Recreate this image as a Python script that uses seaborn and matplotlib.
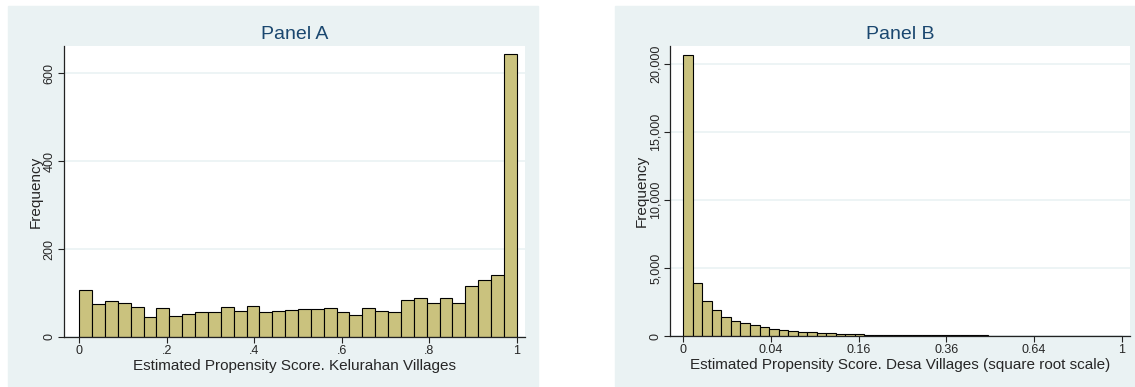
"""
倾向得分分布直方图（Panel A: Kelurahan, Panel B: Desa）
"""

import numpy as np
import pandas as pd
import matplotlib.pyplot as plt
import seaborn as sns
from matplotlib.patches import Rectangle

# ========== 数据（从原图读取的各区间频数） ==========
# Panel A: 34 个等宽区间, 0 ~ 1
kel_counts = [108, 75, 81, 77, 69, 46, 66, 47, 53, 58, 56, 69, 60, 70, 56, 59,
              62, 64, 64, 65, 56, 50, 65, 59, 56, 84, 88, 78, 88, 78, 115, 129,
              140, 643]
kel_ticks = [0, 0.2, 0.4, 0.6, 0.8, 1]
kel_ticklabels = ["0", ".2", ".4", ".6", ".8", "1"]
kel_yticks = [0, 200, 400, 600]

# Panel B: 46 个等宽区间（平方根刻度）, 0 ~ 1
desa_counts = [20700, 3920, 2590, 1880, 1430, 1130, 970, 800, 650, 540, 470,
               380, 330, 270, 220, 195, 170, 145, 120, 110, 100, 90, 85, 80,
               70, 65, 60, 55, 50, 45, 40, 40, 35, 35, 30, 30, 25, 25, 20, 20,
               15, 15, 15, 10, 10, 10]
desa_ticks = [0, 0.04, 0.16, 0.36, 0.64, 1]
desa_yticks = [0, 5000, 10000, 15000, 20000]

# ========== 样式 ==========
BG = "#EAF2F3"
BAR = "#CAC27E"
NAVY = "#1A476F"

sns.set_theme(style="white")
plt.rcParams['font.family'] = ['Liberation Sans', 'DejaVu Sans']

fig = plt.figure(figsize=(11.35, 3.87), dpi=100)
W, H = 1135, 387

# 灰蓝色外框背景（放在最底层）
for x0, x1 in [(8, 538), (615, 1135)]:
    fig.patches.append(Rectangle((x0 / W, 1 - 386 / H), (x1 - x0) / W, 380 / H,
                                 transform=fig.transFigure, color=BG,
                                 zorder=-10))

ax_a = fig.add_axes([64 / W, 50 / H, 461 / W, 291 / H])
ax_b = fig.add_axes([670 / W, 51 / H, 460 / W, 290 / H])


def style_axis(ax, title, xlabel):
    ax.set_facecolor("white")
    for s in ["top", "right"]:
        ax.spines[s].set_visible(False)
    for s in ["left", "bottom"]:
        ax.spines[s].set_color("#222222")
        ax.spines[s].set_linewidth(0.9)
    ax.yaxis.grid(True, color=BG, linewidth=1.2)
    ax.set_axisbelow(True)
    ax.tick_params(axis="both", direction="out", length=4, width=0.8,
                   color="#222222", labelsize=9, pad=2,
                   bottom=True, left=True)
    for lab in ax.get_yticklabels():
        lab.set_rotation(90)
        lab.set_va("center")
    ax.set_title(title, color=NAVY, fontsize=14, pad=5)
    ax.set_xlabel(xlabel, fontsize=11, labelpad=1)
    ax.set_ylabel("Frequency", fontsize=11, labelpad=1)


def hist_from_counts(ax, counts):
    # 用区间中点 + 权重重建直方图
    edges = np.linspace(0, 1, len(counts) + 1)
    df = pd.DataFrame({"mid": (edges[:-1] + edges[1:]) / 2, "n": counts})
    sns.histplot(data=df, x="mid", weights="n", bins=list(edges), ax=ax,
                 color=BAR, edgecolor="black", linewidth=0.8, alpha=1)


# ========== Panel A ==========
hist_from_counts(ax_a, kel_counts)
ax_a.set_xlim(-0.035, 1.019)
ax_a.set_ylim(0, 662)
ax_a.set_xticks(kel_ticks)
ax_a.set_xticklabels(kel_ticklabels)
ax_a.set_yticks(kel_yticks)
ax_a.set_yticklabels([str(v) for v in kel_yticks])
style_axis(ax_a, "Panel A", "Estimated Propensity Score. Kelurahan Villages")

# ========== Panel B（横轴为平方根刻度） ==========
hist_from_counts(ax_b, desa_counts)
ax_b.set_xlim(-0.0303, 1.019)
ax_b.set_ylim(0, 21346)
ax_b.set_xticks(np.sqrt(desa_ticks))
ax_b.set_xticklabels(["0", "0.04", "0.16", "0.36", "0.64", "1"])
ax_b.set_yticks(desa_yticks)
ax_b.set_yticklabels([f"{v:,}" for v in desa_yticks])
style_axis(ax_b, "Panel B",
           "Estimated Propensity Score. Desa Villages (square root scale)")

fig.savefig("out.png", dpi=100, facecolor="white")
